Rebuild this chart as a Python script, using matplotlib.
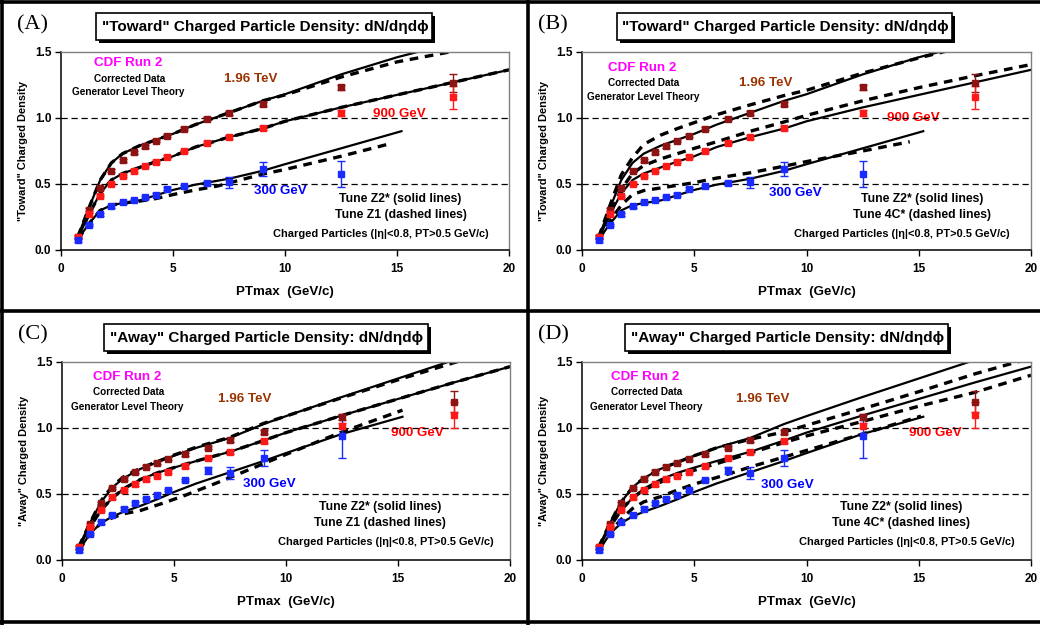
import matplotlib
matplotlib.use("Agg")
import matplotlib.pyplot as plt
from matplotlib.patches import Rectangle
from matplotlib.lines import Line2D

plt.rcParams['font.family'] = ['Liberation Sans', 'DejaVu Sans']
plt.rcParams['font.weight'] = 'bold'

W, H = 1040, 625

# ---- measured data points (PTmax bins) ----
x_pt = [0.75, 1.25, 1.75, 2.25, 2.75, 3.25, 3.75, 4.25, 4.75, 5.5, 6.5, 7.5, 9, 12.5, 17.5]
x_pt300 = x_pt[:14]

toward_196 = [0.10, 0.305, 0.47, 0.60, 0.68, 0.74, 0.785, 0.826, 0.866, 0.92, 0.995, 1.04, 1.106, 1.232, 1.268]
toward_196_err = [0.01, 0.01, 0.01, 0.01, 0.01, 0.01, 0.01, 0.01, 0.01, 0.01, 0.01, 0.015, 0.015, 0.02, 0.068]
toward_900 = [0.098, 0.27, 0.41, 0.50, 0.56, 0.60, 0.636, 0.67, 0.707, 0.75, 0.813, 0.859, 0.924, 1.038, 1.157]
toward_900_err = [0.01, 0.01, 0.01, 0.01, 0.01, 0.01, 0.01, 0.01, 0.01, 0.01, 0.01, 0.015, 0.015, 0.02, 0.088]
toward_300 = [0.073, 0.19, 0.27, 0.33, 0.36, 0.38, 0.40, 0.42, 0.465, 0.485, 0.51, 0.513, 0.614, 0.578]
toward_300_err = [0.01, 0.01, 0.01, 0.01, 0.01, 0.01, 0.01, 0.01, 0.01, 0.01, 0.015, 0.04, 0.05, 0.097]

away_196 = [0.096, 0.27, 0.43, 0.545, 0.616, 0.67, 0.707, 0.737, 0.768, 0.80, 0.85, 0.91, 0.967, 1.083, 1.20]
away_196_err = [0.01, 0.01, 0.01, 0.01, 0.01, 0.01, 0.01, 0.01, 0.01, 0.01, 0.01, 0.015, 0.015, 0.02, 0.08]
away_900 = [0.096, 0.25, 0.38, 0.475, 0.53, 0.573, 0.61, 0.64, 0.67, 0.71, 0.773, 0.816, 0.90, 1.018, 1.10]
away_900_err = [0.01, 0.01, 0.01, 0.01, 0.01, 0.01, 0.01, 0.01, 0.01, 0.01, 0.01, 0.015, 0.015, 0.02, 0.10]
away_300 = [0.073, 0.197, 0.285, 0.34, 0.39, 0.43, 0.46, 0.495, 0.53, 0.606, 0.68, 0.657, 0.773, 0.937]
away_300_err = [0.01, 0.01, 0.01, 0.01, 0.01, 0.01, 0.01, 0.01, 0.01, 0.01, 0.025, 0.045, 0.063, 0.165]

# ---- generator level theory curves ----
xt = [0.75, 1.25, 1.75, 2.25, 2.75, 3.5, 4.25, 5, 6, 7.5, 9, 10, 12.5, 15, 17.5, 20]
xt300 = [0.75, 1.25, 1.75, 2.25, 2.75, 3.5, 4.25, 5, 6, 7.5, 9, 10, 12.5, 15.2]

tw_z2_196 = [0.10, 0.32, 0.53, 0.66, 0.73, 0.79, 0.835, 0.88, 0.95, 1.04, 1.13, 1.18, 1.33, 1.46, 1.57, 1.67]
tw_z2_900 = [0.09, 0.27, 0.43, 0.53, 0.58, 0.625, 0.67, 0.71, 0.78, 0.855, 0.92, 0.975, 1.08, 1.175, 1.27, 1.365]
tw_z2_300 = [0.08, 0.20, 0.30, 0.34, 0.355, 0.375, 0.415, 0.455, 0.495, 0.54, 0.60, 0.65, 0.77, 0.90]

tw_z1_196 = [0.10, 0.32, 0.53, 0.66, 0.73, 0.79, 0.835, 0.88, 0.95, 1.04, 1.13, 1.175, 1.31, 1.425, 1.505, 1.58]
tw_z1_900 = [0.09, 0.27, 0.43, 0.53, 0.58, 0.625, 0.67, 0.71, 0.78, 0.855, 0.92, 0.975, 1.08, 1.175, 1.27, 1.365]
tw_z1_300_x = [0.75, 1.25, 1.75, 2.25, 2.75, 3.5, 4.25, 5, 6, 7, 8, 9, 10, 12.5, 14.8]
tw_z1_300 = [0.08, 0.20, 0.30, 0.34, 0.355, 0.37, 0.39, 0.42, 0.455, 0.485, 0.53, 0.575, 0.61, 0.71, 0.81]

tw_4c_196 = [0.10, 0.34, 0.57, 0.70, 0.80, 0.87, 0.92, 0.965, 1.025, 1.10, 1.17, 1.21, 1.34, 1.455, 1.56, 1.66]
tw_4c_900 = [0.09, 0.28, 0.46, 0.58, 0.64, 0.69, 0.73, 0.77, 0.82, 0.90, 0.97, 1.02, 1.13, 1.23, 1.32, 1.405]
tw_4c_300_x = [0.75, 1.25, 1.75, 2.25, 2.75, 3.5, 4.25, 5, 6, 7.5, 9, 10, 12.5, 14.6]
tw_4c_300 = [0.08, 0.22, 0.34, 0.42, 0.45, 0.47, 0.49, 0.51, 0.545, 0.585, 0.635, 0.67, 0.75, 0.82]

aw_z2_196 = [0.10, 0.28, 0.44, 0.55, 0.62, 0.69, 0.74, 0.79, 0.85, 0.925, 1.03, 1.09, 1.235, 1.375, 1.515, 1.64]
aw_z2_900 = [0.09, 0.25, 0.38, 0.47, 0.54, 0.61, 0.66, 0.70, 0.75, 0.82, 0.905, 0.965, 1.095, 1.22, 1.345, 1.465]
aw_z2_300 = [0.07, 0.20, 0.28, 0.33, 0.365, 0.41, 0.46, 0.515, 0.58, 0.665, 0.75, 0.81, 0.955, 1.085]

aw_z1_196 = [0.10, 0.28, 0.45, 0.56, 0.63, 0.695, 0.745, 0.795, 0.855, 0.93, 1.035, 1.09, 1.23, 1.365, 1.495, 1.62]
aw_z1_900 = [0.09, 0.25, 0.38, 0.47, 0.54, 0.61, 0.66, 0.70, 0.75, 0.82, 0.905, 0.965, 1.095, 1.22, 1.345, 1.465]
aw_z1_300_x = [0.75, 1.25, 1.75, 2.25, 2.75, 3.5, 4.5, 5.5, 7, 8, 9, 10, 12.5, 15.2]
aw_z1_300 = [0.07, 0.20, 0.28, 0.32, 0.35, 0.375, 0.43, 0.49, 0.59, 0.66, 0.73, 0.80, 0.97, 1.135]

aw_4c_196 = [0.10, 0.28, 0.44, 0.55, 0.62, 0.69, 0.74, 0.79, 0.85, 0.915, 0.97, 1.02, 1.145, 1.275, 1.41, 1.53]
aw_4c_900 = [0.09, 0.25, 0.38, 0.47, 0.53, 0.59, 0.64, 0.68, 0.73, 0.81, 0.89, 0.94, 1.05, 1.165, 1.27, 1.40]
aw_4c_300_x = [0.75, 1.25, 1.75, 2.25, 2.75, 3.5, 4.25, 5, 5.5, 6.5, 7.5, 9, 10, 12.5, 15.1]
aw_4c_300 = [0.08, 0.21, 0.31, 0.39, 0.44, 0.48, 0.53, 0.575, 0.60, 0.65, 0.705, 0.78, 0.83, 0.955, 1.09]

x_ticks = [0, 5, 10, 15, 20]
y_ticks = [0.0, 0.5, 1.0, 1.5]

c196, c900, c300 = '#8e1414', '#ff1a1a', '#1a2bff'
t196, t900, t300 = '#993300', '#ff0000', '#0000ff'


def fx(x):
    return x / W


def fy(y):
    return 1 - y / H


fig = plt.figure(figsize=(W / 100, H / 100), dpi=100)


def title_box(x0, y0, x1, y1, text):
    # black drop shadow then white box
    fig.add_artist(Rectangle((fx(x0 + 3), fy(y1 + 3)), (x1 - x0) / W, (y1 - y0) / H,
                             transform=fig.transFigure, facecolor='black', edgecolor='black', lw=0))
    fig.add_artist(Rectangle((fx(x0), fy(y1)), (x1 - x0) / W, (y1 - y0) / H,
                             transform=fig.transFigure, facecolor='white', edgecolor='black', lw=1.2))
    fig.text(fx((x0 + x1) / 2 + 1), fy((y0 + y1) / 2 + 0.5), text, ha='center', va='center',
             fontsize=11, fontweight='bold', family=['Liberation Sans', 'DejaVu Sans'])


def panel(box, letter, title_px, title, ylab, tune2, data, curves, txt):
    l, t, r, b = box
    ax = fig.add_axes([fx(l), fy(b), (r - l) / W, (b - t) / H])
    ax.set_xlim(0, 20)
    ax.set_ylim(0, 1.5)
    ax.set_xticks(x_ticks)
    ax.set_yticks(y_ticks)
    ax.set_xticklabels([str(v) for v in x_ticks])
    ax.set_yticklabels(['%.1f' % v for v in y_ticks])
    ax.tick_params(direction='out', length=4, width=1, labelsize=8.5, pad=3)
    for lab in ax.get_xticklabels() + ax.get_yticklabels():
        lab.set_fontweight('bold')
    ax.tick_params(axis='x', pad=5)
    for s in ['left', 'bottom']:
        ax.spines[s].set_color('black')
        ax.spines[s].set_linewidth(1.1)
    for s in ['top', 'right']:
        ax.spines[s].set_color('#808080')
        ax.spines[s].set_linewidth(1.0)

    for g in [0.5, 1.0]:
        ax.axhline(g, color='black', lw=0.9, dashes=(5, 3), zorder=1.5)

    # theory curves
    for xs, ys, style in curves:
        if style == 'solid':
            ax.plot(xs, ys, color='black', lw=1.6, zorder=2)
        else:
            ax.plot(xs, ys, color='black', lw=2.4, dashes=(2.6, 2.0), zorder=2.2)

    # data points
    for xs, ys, es, c in data:
        ax.errorbar(xs, ys, yerr=es, fmt='s', color=c, ms=4.6, mec=c, capsize=3,
                    elinewidth=1, capthick=1, zorder=4)

    tr = ax.transAxes
    ax.text(txt['cdf'][0], txt['cdf'][1], 'CDF Run 2', color='#ff00ff', fontsize=9.6,
            ha='center', va='center', transform=tr, fontweight='bold')
    ax.text(txt['corr'][0], txt['corr'][1], 'Corrected Data', color='black', fontsize=7.2,
            ha='center', va='center', transform=tr, fontweight='bold')
    ax.text(txt['gen'][0], txt['gen'][1], 'Generator Level Theory', color='black', fontsize=7.2,
            ha='center', va='center', transform=tr, fontweight='bold')
    ax.text(txt['e196'][0], txt['e196'][1], '1.96 TeV', color=t196, fontsize=9.6,
            ha='center', va='center', transform=tr, fontweight='bold', zorder=1)
    ax.text(txt['e900'][0], txt['e900'][1], '900 GeV', color=t900, fontsize=9.6,
            ha='center', va='center', transform=tr, fontweight='bold', zorder=1)
    ax.text(txt['e300'][0], txt['e300'][1], '300 GeV', color=t300, fontsize=9.6,
            ha='center', va='center', transform=tr, fontweight='bold', zorder=1)
    ax.text(txt['tune'][0], txt['tune'][1], 'Tune Z2* (solid lines)', color='black', fontsize=8.8,
            ha='center', va='center', transform=tr, fontweight='bold')
    ax.text(txt['tune'][0], txt['tune'][1] - 0.079, tune2, color='black', fontsize=8.8,
            ha='center', va='center', transform=tr, fontweight='bold')
    ax.text(txt['cp'][0], txt['cp'][1], 'Charged Particles (|\u03b7|<0.8, PT>0.5 GeV/c)',
            color='black', fontsize=7.9, ha='center', va='center', transform=tr, fontweight='bold')

    # axis titles
    ax.text(0.5, -42 / (b - t), 'PTmax  (GeV/c)', fontsize=9.6,
            ha='center', va='center', transform=tr, fontweight='bold')
    ax.text((23 - 61) / (r - l), 0.5, ylab,
            fontsize=7.9, rotation=90, ha='center', va='center', transform=tr, fontweight='bold')

    fig.text(fx(l - 29), fy(t - 27), letter, fontsize=16, family='Liberation Serif',
             fontweight='normal', ha='center', va='center')
    title_box(*title_px, title)
    return ax


toward_data = [(x_pt, toward_196, toward_196_err, c196),
               (x_pt, toward_900, toward_900_err, c900),
               (x_pt300, toward_300, toward_300_err, c300)]
away_data = [(x_pt, away_196, away_196_err, c196),
             (x_pt, away_900, away_900_err, c900),
             (x_pt300, away_300, away_300_err, c300)]

tw_title = '"Toward" Charged Particle Density: dN/d\u03b7d\u03d5'
aw_title = '"Away" Charged Particle Density: dN/d\u03b7d\u03d5'

txtA = dict(cdf=(0.15, 0.944), corr=(0.154, 0.864), gen=(0.15, 0.80), e196=(0.424, 0.864),
            e900=(0.755, 0.685), e300=(0.49, 0.30), tune=(0.758, 0.258), cp=(0.714, 0.08))
txtB = dict(cdf=(0.134, 0.92), corr=(0.138, 0.843), gen=(0.136, 0.773), e196=(0.408, 0.843),
            e900=(0.739, 0.667), e300=(0.475, 0.288), tune=(0.757, 0.258), cp=(0.713, 0.08))
txtC = dict(cdf=(0.145, 0.924), corr=(0.148, 0.848), gen=(0.145, 0.773), e196=(0.408, 0.813),
            e900=(0.794, 0.64), e300=(0.462, 0.384), tune=(0.71, 0.268), cp=(0.723, 0.091))
txtD = dict(cdf=(0.14, 0.924), corr=(0.145, 0.848), gen=(0.143, 0.773), e196=(0.403, 0.813),
            e900=(0.788, 0.64), e300=(0.457, 0.379), tune=(0.71, 0.268), cp=(0.724, 0.091))

panel((61, 52, 509, 250), '(A)', (96, 13, 432, 40), tw_title, '"Toward" Charged Density',
      'Tune Z1 (dashed lines)', toward_data,
      [(xt, tw_z2_196, 'solid'), (xt, tw_z2_900, 'solid'), (xt300, tw_z2_300, 'solid'),
       (xt, tw_z1_196, 'dash'), (xt, tw_z1_900, 'dash'), (tw_z1_300_x, tw_z1_300, 'dash')], txtA)
panel((582, 52, 1031, 250), '(B)', (617, 13, 952, 40), tw_title, '"Toward" Charged Density',
      'Tune 4C* (dashed lines)', toward_data,
      [(xt, tw_z2_196, 'solid'), (xt, tw_z2_900, 'solid'), (xt300, tw_z2_300, 'solid'),
       (xt, tw_4c_196, 'dash'), (xt, tw_4c_900, 'dash'), (tw_4c_300_x, tw_4c_300, 'dash')], txtB)
panel((62, 362, 510, 560), '(C)', (104, 324, 428, 351), aw_title, '"Away" Charged Density',
      'Tune Z1 (dashed lines)', away_data,
      [(xt, aw_z2_196, 'solid'), (xt, aw_z2_900, 'solid'), (xt300, aw_z2_300, 'solid'),
       (xt, aw_z1_196, 'dash'), (xt, aw_z1_900, 'dash'), (aw_z1_300_x, aw_z1_300, 'dash')], txtC)
panel((582, 362, 1031, 560), '(D)', (625, 324, 948, 351), aw_title, '"Away" Charged Density',
      'Tune 4C* (dashed lines)', away_data,
      [(xt, aw_z2_196, 'solid'), (xt, aw_z2_900, 'solid'), (xt300, aw_z2_300, 'solid'),
       (xt, aw_4c_196, 'dash'), (xt, aw_4c_900, 'dash'), (aw_4c_300_x, aw_4c_300, 'dash')], txtD)

# panel frames
frame = [((0, 1.5), (W, 1.5)), ((1.5, 0), (1.5, H)), ((528, 0), (528, H)),
         ((0, 310.5), (W, 310.5)), ((0, 622), (W, 622))]
for (xa, ya), (xb, yb) in frame:
    fig.add_artist(Line2D([fx(xa), fx(xb)], [fy(ya), fy(yb)], transform=fig.transFigure,
                          color='black', lw=2.6))

fig.savefig('out.png', dpi=100)
